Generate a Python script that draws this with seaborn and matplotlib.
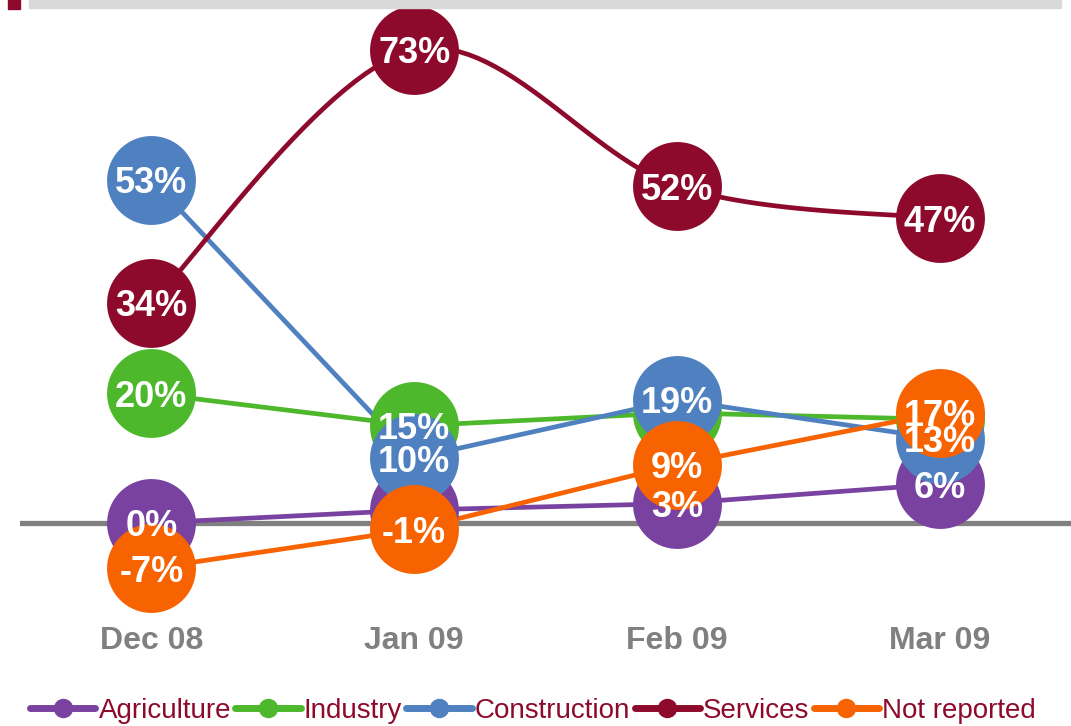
"""
Monthly change by sector, Dec 08 - Mar 09, redrawn with seaborn.
"""

import numpy as np
import pandas as pd
import matplotlib
matplotlib.use("Agg")
import matplotlib.pyplot as plt
from matplotlib.lines import Line2D
from matplotlib.patches import Rectangle
import seaborn as sns

months = ["Dec 08", "Jan 09", "Feb 09", "Mar 09"]
series_names = ["Agriculture", "Industry", "Construction", "Services", "Not reported"]

agriculture = [0, 2, 3, 6]
industry = [20, 15, 17, 16]
construction = [53, 10, 19, 13]
services = [34, 73, 52, 47]
not_reported = [-7, -1, 9, 17]

# labels that are shown on the chart (None = no label)
agriculture_labels = ["0%", None, "3%", "6%"]
industry_labels = ["20%", "15%", None, None]
construction_labels = ["53%", "10%", "19%", "13%"]
services_labels = ["34%", "73%", "52%", "47%"]
not_reported_labels = ["-7%", "-1%", "9%", "17%"]

colors = ["#7A42A0", "#4DB82B", "#4F81C0", "#8E0A2C", "#F76300"]
smooth = [False, False, False, True, False]

values = [agriculture, industry, construction, services, not_reported]
labels = [agriculture_labels, industry_labels, construction_labels,
          services_labels, not_reported_labels]


def smooth_curve(y, steps=30):
    """Excel-like smoothed line (Bezier through the points)."""
    x = np.arange(len(y), dtype=float)
    pts = np.column_stack([x, np.asarray(y, dtype=float)])
    out = []
    for i in range(len(pts) - 1):
        p0 = pts[max(i - 1, 0)]
        p1 = pts[i]
        p2 = pts[i + 1]
        p3 = pts[min(i + 2, len(pts) - 1)]
        c1 = p1 + (p2 - p0) / 6
        c2 = p2 - (p3 - p1) / 6
        t = np.linspace(0, 1, steps)[:, None]
        seg = ((1 - t) ** 3) * p1 + 3 * ((1 - t) ** 2) * t * c1 + 3 * (1 - t) * t ** 2 * c2 + t ** 3 * p2
        out.append(seg if i == 0 else seg[1:])
    seg = np.vstack(out)
    return seg[:, 0], seg[:, 1]


sns.set_theme(style="white")
plt.rcParams["font.family"] = ["Liberation Sans", "DejaVu Sans"]

W, H = 1071, 726
fig = plt.figure(figsize=(W / 100, H / 100), dpi=100)
ax = fig.add_axes([20 / W, 1 - 600 / H, 1 - 20 / W, 590 / H])

# lines
for name, vals, col, sm in zip(series_names, values, colors, smooth):
    if sm:
        xs, ys = smooth_curve(vals)
    else:
        xs, ys = np.arange(len(vals)), np.asarray(vals)
    df = pd.DataFrame({"x": xs, "y": ys})
    sns.lineplot(data=df, x="x", y="y", sort=False, estimator=None, color=col,
                 lw=3.4, ax=ax, zorder=3)

# big circle markers, drawn over all lines
for i, (vals, col) in enumerate(zip(values, colors)):
    ax.plot(np.arange(len(vals)), vals, ls="none", marker="o", ms=64,
            mec="none", mfc=col, zorder=5 + i, clip_on=False)

# data labels on top
for vals, labs in zip(values, labels):
    for j, (v, t) in enumerate(zip(vals, labs)):
        if t is None:
            continue
        ax.text(j, v, t, ha="center", va="center_baseline", color="white",
                fontsize=26, fontweight="bold", zorder=20, clip_on=False)

ax.axhline(0, color="#808080", lw=3.8, solid_capstyle="round", zorder=2)

ax.set_xlim(-0.5, 3.5)
ax.set_ylim((523 - 600) / 6.48, (523 - 10) / 6.48)
ax.set_xticks(range(len(months)))
ax.set_xticklabels(months, fontsize=23, fontweight="bold", color="#808080")
ax.tick_params(axis="x", length=0, pad=19)
ax.set_yticks([])
ax.set_xlabel("")
ax.set_ylabel("")
sns.despine(ax=ax, left=True, bottom=True)

# top title bar strip
fig.patches.append(Rectangle((29 / W, 1 - 8 / H), 1032 / W, 8 / H,
                             transform=fig.transFigure, color="#D9D9D9", zorder=0))
fig.patches.append(Rectangle((8 / W, 1 - 9 / H), 12 / W, 9 / H,
                             transform=fig.transFigure, color="#8E0A2C", zorder=0))

handles = [Line2D([], [], color=c, lw=5, marker="o", ms=14, mec="none")
           for c in colors]
leg = fig.legend(handles, series_names, loc="center", ncol=5, frameon=False,
                 bbox_to_anchor=(533 / W, 1 - 711 / H), fontsize=20,
                 handlelength=2.35, handletextpad=0.12, columnspacing=0.15,
                 borderaxespad=0)
for t in leg.get_texts():
    t.set_color("#8E0A2C")

fig.savefig("out.png", dpi=100)
